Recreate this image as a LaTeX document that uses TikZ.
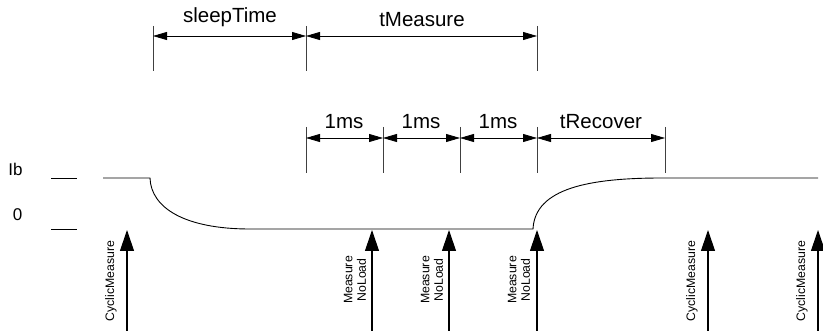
\documentclass[tikz,border=0pt]{standalone}
\usepackage{fontspec}
\setmainfont{Liberation Sans}
\usetikzlibrary{arrows.meta}
\begin{document}
\begin{tikzpicture}[x=1pt,y=-1pt,
  dimline/.style={line width=0.8pt,{Triangle[length=14pt,width=8pt]}-{Triangle[length=14pt,width=8pt]}},
  tick/.style={line width=0.9pt,draw=black!75},
  signal/.style={line width=0.9pt},
  event/.style={line width=1.1pt,-{Triangle[length=21pt,width=14pt]}},
  dimlabel/.style={font=\fontsize{20.5}{24}\selectfont,inner sep=0pt},
  levellabel/.style={font=\fontsize{17}{20}\selectfont,inner sep=0pt},
  evlabel/.style={font=\fontsize{12.3}{13.6}\selectfont,rotate=90,align=center,inner sep=0pt}]
\useasboundingbox (0,0) rectangle (823,331);

% ---- upper dimension row: sleepTime / tMeasure
\foreach \n/\x in {a/153,b/306,c/537}{
  \coordinate (t\n) at (\x,26);
  \coordinate (b\n) at (\x,71);
  \coordinate (m\n) at (\x,36);
  \draw[tick] (t\n) -- (b\n);
}
\draw[dimline] (ma) -- (mb);
\draw[dimline] (mb) -- (mc);
\node[dimlabel,anchor=base] (lsleep) at (230,23) {sleepTime};
\node[dimlabel,anchor=base] (lmeas) at (422,27) {tMeasure};

% ---- lower dimension row: 1ms x3 / tRecover
\foreach \n/\x in {p/306,q/383,r/460,s/537,u/665}{
  \coordinate (t\n) at (\x,127);
  \coordinate (b\n) at (\x,173);
  \coordinate (m\n) at (\x,138);
  \draw[tick] (t\n) -- (b\n);
}
\draw[dimline] (mp) -- (mq);
\draw[dimline] (mq) -- (mr);
\draw[dimline] (mr) -- (ms);
\draw[dimline] (ms) -- (mu);
\node[dimlabel,anchor=base] (l1) at (344,129) {1ms};
\node[dimlabel,anchor=base] (l2) at (421,129) {1ms};
\node[dimlabel,anchor=base] (l3) at (498,129) {1ms};
\node[dimlabel,anchor=base] (l4) at (601,129) {tRecover};

% ---- level marks
\node[levellabel,anchor=base] (lIb) at (15.5,176) {Ib};
\node[levellabel,anchor=base] (l0) at (17.5,221) {0};
\coordinate (hi1) at (51,178);
\coordinate (hi2) at (77,178);
\coordinate (lo1) at (51,229);
\coordinate (lo2) at (77,229);
\draw[signal] (hi1) -- (hi2);
\draw[signal] (lo1) -- (lo2);

% ---- current waveform
\coordinate (s0) at (103,178);
\coordinate (s1) at (150,178);
\coordinate (s2) at (250,229);
\coordinate (s3) at (533,229);
\coordinate (s4) at (662,178);
\coordinate (s5) at (818,178);
\draw[signal] (s0) -- (s1)
  .. controls (151,208) and (185,229) .. (s2)
  -- (s3)
  .. controls (535,188) and (590,178) .. (s4)
  -- (s5);

% ---- measurement events
\foreach \n/\x in {e1/127,e2/372,e3/449,e4/537,e5/708,e6/818}{
  \coordinate (\n b) at (\x,331);
  \coordinate (\n t) at (\x,230);
  \draw[event] (\n b) -- (\n t);
}
\node[evlabel] (c1) at (111,281) {CyclicMeasure};
\node[evlabel] (n1) at (355,280) {Measure\\NoLoad};
\node[evlabel] (n2) at (432,280) {Measure\\NoLoad};
\node[evlabel] (n3) at (519,280) {Measure\\NoLoad};
\node[evlabel] (c2) at (692,281) {CyclicMeasure};
\node[evlabel] (c3) at (802,281) {CyclicMeasure};
\end{tikzpicture}
\end{document}
